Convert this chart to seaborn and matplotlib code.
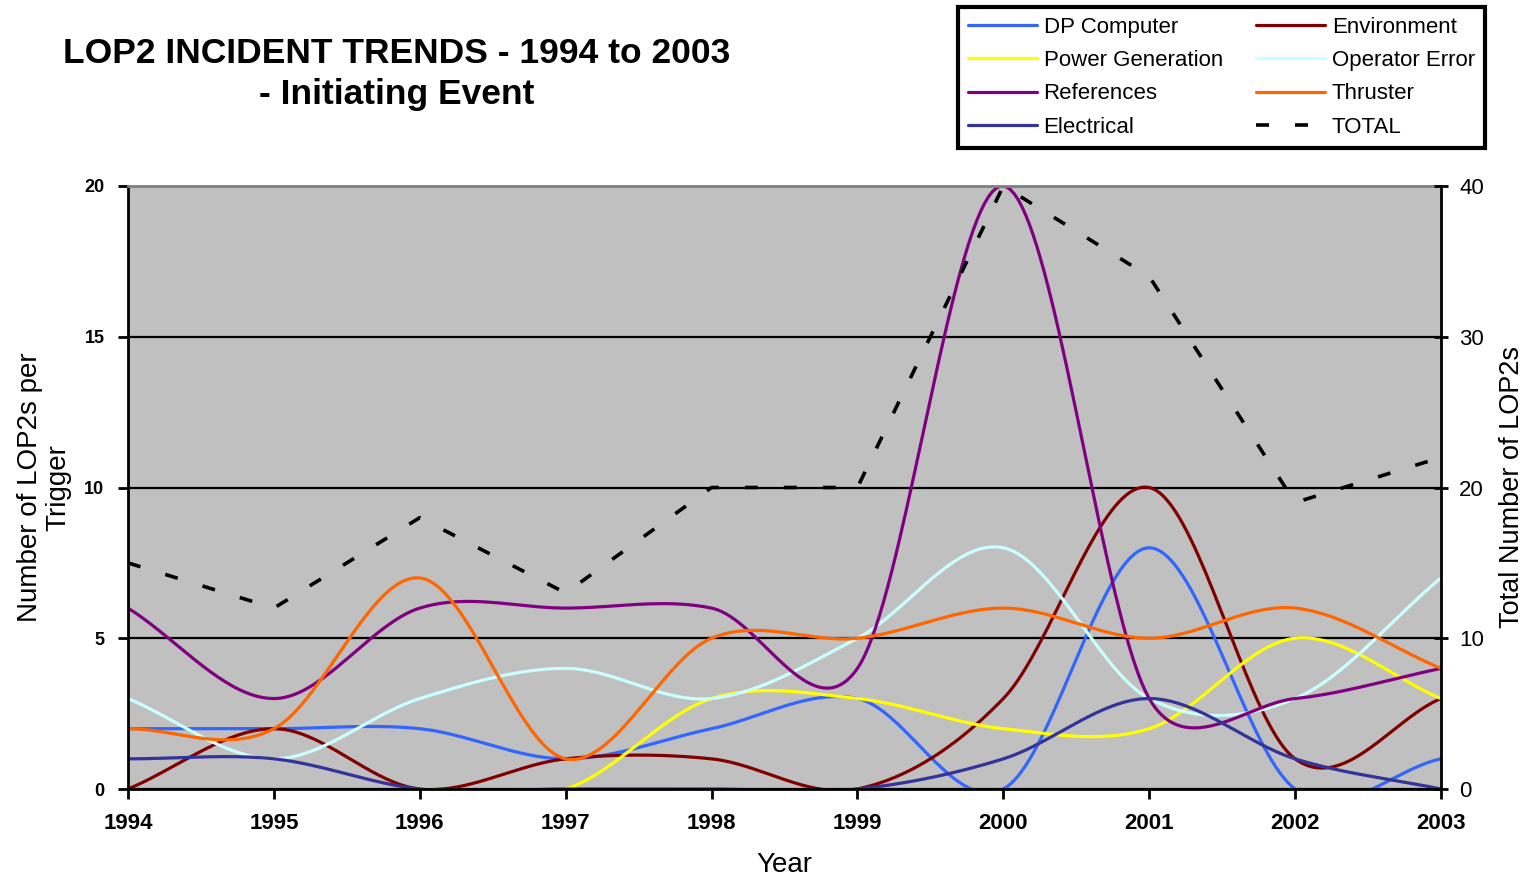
import numpy as np
import matplotlib
matplotlib.use("Agg")
import matplotlib.pyplot as plt
import seaborn as sns

years = [1994, 1995, 1996, 1997, 1998, 1999, 2000, 2001, 2002, 2003]

dp_computer = [2, 2, 2, 1, 2, 3, 0, 8, 0, 1]
environment = [0, 2, 0, 1, 1, 0, 3, 10, 1, 3]
power_generation = [np.nan, np.nan, 0, 0, 3, 3, 2, 2, 5, 3]
operator_error = [3, 1, 3, 4, 3, 5, 8, 3, 3, 7]
references = [6, 3, 6, 6, 6, 4, 20, 3, 3, 4]
thruster = [2, 2, 7, 1, 5, 5, 6, 5, 6, 4]
electrical = [1, 1, 0, 0, 0, 0, 1, 3, 1, 0]
total = [15, 12, 18, 13, 20, 20, 40, 34, 19, 22]

series = [
    ("DP Computer", dp_computer, "#3366FF"),
    ("Environment", environment, "#800000"),
    ("Power Generation", power_generation, "#FFFF00"),
    ("Operator Error", operator_error, "#CCFFFF"),
    ("References", references, "#800080"),
    ("Thruster", thruster, "#FF6600"),
    ("Electrical", electrical, "#333399"),
]
legend_order = ["DP Computer", "Power Generation", "References", "Electrical",
                "Environment", "Operator Error", "Thruster", "TOTAL"]

# pixel size of one year / one unit on the left axis (for Excel-like smoothing)
PX_X, PX_Y = 145.9, 30.15


def smooth(xv, yv, n=40):
    # Excel style smoothed line: Bezier through the points, control arms of
    # 1/6 of the neighbour chord, capped at half the segment length (screen px)
    x = np.asarray(xv, float)
    y = np.asarray(yv, float)
    ok = ~np.isnan(y)
    p = np.column_stack([(x[ok] - x[0]) * PX_X, y[ok] * PX_Y])
    # reflected end points
    p = np.vstack([2 * p[0] - p[1], p, 2 * p[-1] - p[-2]])
    t = np.linspace(0, 1, n)[:, None]
    out = []
    for i in range(1, len(p) - 2):
        p0, p1, p2, p3 = p[i - 1], p[i], p[i + 1], p[i + 2]
        d12 = np.hypot(*(p2 - p1))
        a = (p2 - p0) / 6
        b = (p3 - p1) / 6
        la, lb = np.hypot(*a), np.hypot(*b)
        if la > d12 / 2:
            a *= d12 / 2 / la
        if lb > d12 / 2:
            b *= d12 / 2 / lb
        c1, c2 = p1 + a, p2 - b
        seg = ((1 - t) ** 3 * p1 + 3 * (1 - t) ** 2 * t * c1
               + 3 * (1 - t) * t ** 2 * c2 + t ** 3 * p2)
        out.append(seg)
    out = np.vstack(out)
    return out[:, 0] / PX_X + x[0], out[:, 1] / PX_Y


sns.set_style("white")
plt.rcParams["font.family"] = ["Liberation Sans", "DejaVu Sans"]
for k in ["text.color", "axes.labelcolor", "xtick.color", "ytick.color"]:
    plt.rcParams[k] = "black"

fig = plt.figure(figsize=(15.25, 8.77), dpi=100)
ax = fig.add_axes([128 / 1525, 1 - 789 / 877, (1441 - 128) / 1525, (789 - 186) / 877])
ax.set_facecolor("#C0C0C0")

handles = {}
for name, vals, col in series:
    sx, sy = smooth(years, vals)
    sns.lineplot(x=sx, y=sy, ax=ax, color=col, lw=2.3, sort=False,
                 estimator=None, legend=False)
    handles[name] = ax.get_lines()[-1]

ax.set_xlim(1994, 2003)
ax.set_ylim(0, 20)
ax.set_xticks(years)
ax.set_xticklabels([str(y) for y in years], fontsize=16, fontweight="bold")
ax.set_yticks([0, 5, 10, 15, 20])
ax.set_yticklabels(["0", "5", "10", "15", "20"], fontsize=13, fontweight="bold")
ax.yaxis.grid(True, color="black", lw=1.6)
ax.xaxis.grid(False)
ax.tick_params(axis="both", direction="out", length=7, width=2, color="black",
               bottom=True, left=True)
ax.tick_params(axis="x", pad=10)
ax.tick_params(axis="y", pad=10)
for s in ["left", "bottom", "right"]:
    ax.spines[s].set_color("black")
    ax.spines[s].set_linewidth(2)
ax.spines["top"].set_color("#808080")
ax.spines["top"].set_linewidth(2)
ax.set_xlabel("Year", fontsize=20, labelpad=13)
ax.set_ylabel("Number of LOP2s per\nTrigger", fontsize=20, labelpad=9,
              linespacing=1.15)

ax2 = ax.twinx()
sns.lineplot(x=years, y=total, ax=ax2, color="black", lw=2.6, sort=False,
             estimator=None, legend=False, linestyle=(0, (3.6, 7.2)))
handles["TOTAL"] = ax2.get_lines()[-1]
ax2.set_ylim(0, 40)
ax2.set_yticks([0, 10, 20, 30, 40])
ax2.set_yticklabels(["0", "10", "20", "30", "40"], fontsize=16)
ax2.tick_params(axis="y", direction="inout", length=10, width=2, color="black",
                right=True, pad=8)
ax2.set_ylabel("Total Number of LOP2s", fontsize=19.5, labelpad=11)
for s in ax2.spines.values():
    s.set_visible(False)

fig.text(0.26, 0.958, "LOP2 INCIDENT TRENDS - 1994 to 2003\n- Initiating Event",
         ha="center", va="top", fontsize=25.5, fontweight="bold",
         family=["Liberation Sans Narrow", "Liberation Sans", "DejaVu Sans"],
         linespacing=1.3)

leg = fig.legend([handles[k] for k in legend_order], legend_order, ncol=2,
                 loc="upper left", bbox_to_anchor=(958 / 1525, 1 - 7 / 877),
                 fontsize=16, frameon=True, fancybox=False, framealpha=1,
                 edgecolor="black", handlelength=3.1, labelspacing=0.55,
                 columnspacing=1.5, handletextpad=0.3, borderpad=0.45,
                 borderaxespad=0)
leg.get_frame().set_linewidth(3)

fig.savefig("out.png", dpi=100)
